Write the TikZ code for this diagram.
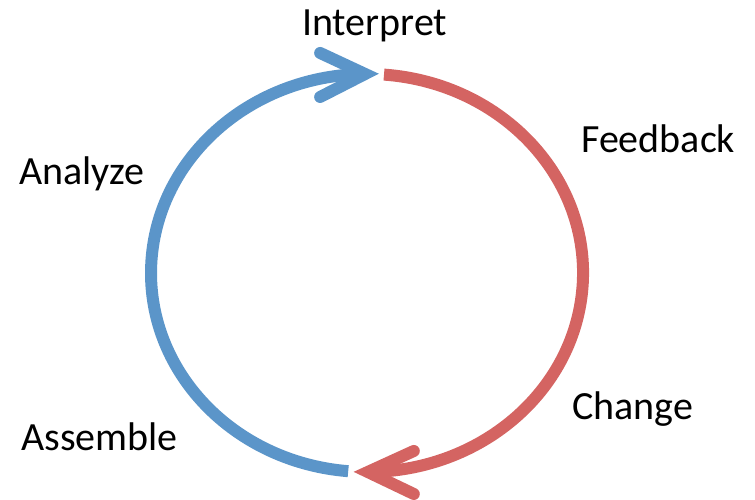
\documentclass[tikz,border=0pt]{standalone}
\usepackage{fontspec}
\setmainfont{Carlito}
\usetikzlibrary{calc}
\definecolor{cycblue}{RGB}{91,149,201}
\definecolor{cycred}{RGB}{212,100,98}
\begin{document}
\begin{tikzpicture}[x=1pt,y=1pt,
  band/.style={line width=12pt},
  chev/.style={line width=12pt,line cap=round,line join=miter},
  lbl/.style={inner sep=0pt,anchor=base west,font=\fontsize{40}{40}\selectfont}]
\useasboundingbox (0,0) rectangle (755,499);
% arcs
\coordinate (bstart) at (348.2,27.8);
\coordinate (rstart) at (384.0,424.4);
\draw[band,cycblue] (bstart) arc[start angle=265,end angle=90.5,x radius=216pt,y radius=199pt] coordinate (btip);
\draw[band,cycred] (rstart) arc[start angle=85.5,end angle=-89.8,x radius=216pt,y radius=199pt] coordinate (rtip);
% arrowheads
\draw[chev,cycblue] ($(btip)+(-45,21)$) -- (btip) -- ($(btip)+(-45,-23)$);
\draw[chev,cycred] ($(rtip)+(46,21)$) -- (rtip) -- ($(rtip)+(46,-22)$);
% labels
\node[lbl] (interpret) at (302,463) {Interpret};
\node[lbl] (analyze) at (19,315) {Analyze};
\node[lbl] (feedback) at (581,346) {Feedback};
\node[lbl] (change) at (572,80) {Change};
\node[lbl] (assemble) at (21,49) {Assemble};
\end{tikzpicture}
\end{document}
